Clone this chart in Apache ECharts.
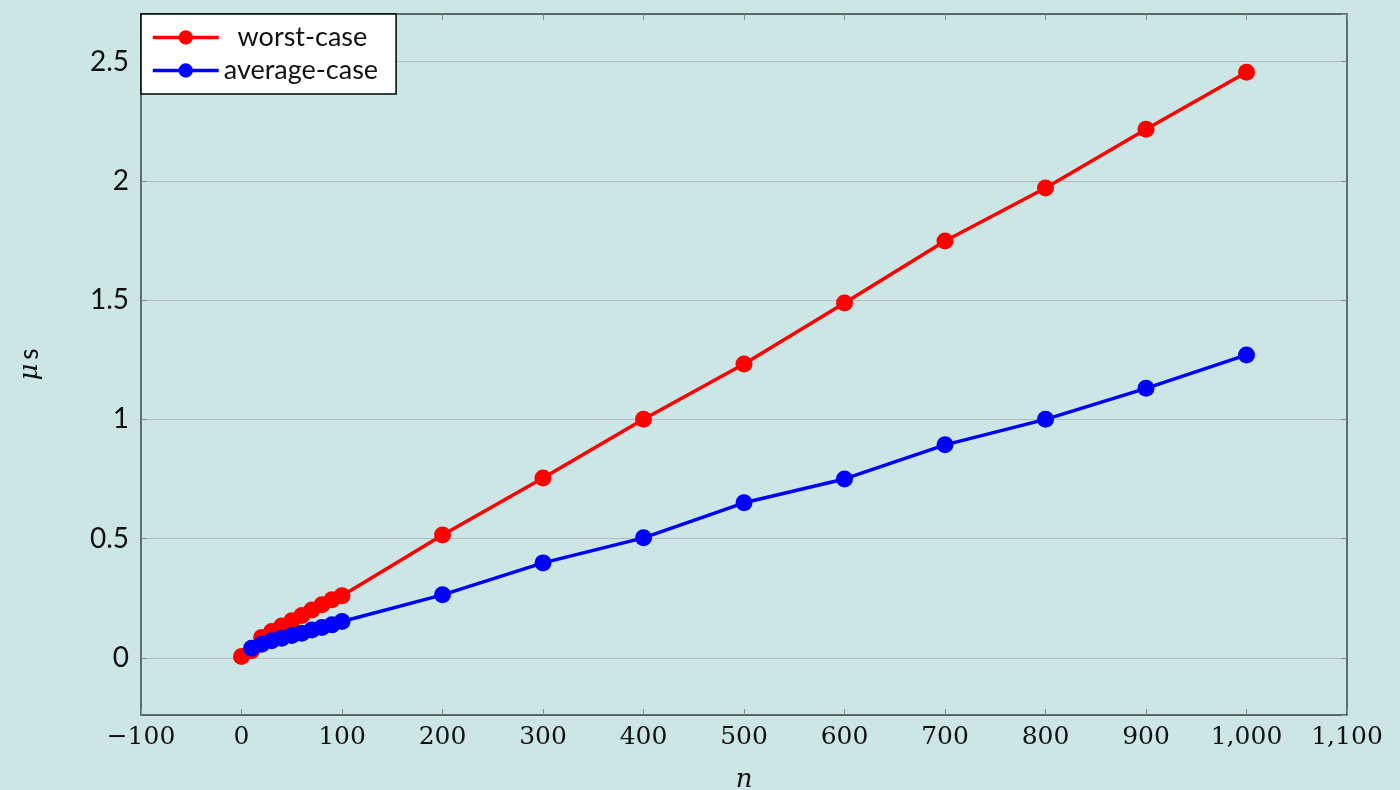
<!DOCTYPE html>
<html>
<head>
<meta charset="utf-8">
<script src="https://cdn.jsdelivr.net/npm/echarts@6/dist/echarts.min.js"></script>
<style>
  html, body { margin: 0; padding: 0; background: #cce6e6; }
  #chart { width: 1400px; height: 790px; }
</style>
</head>
<body>
<div id="chart"></div>
<script>
  // n values
  const nValues = [0, 10, 20, 30, 40, 50, 60, 70, 80, 90, 100, 200, 300, 400, 500, 600, 700, 800, 900, 1000]
  // worst-case timings (microseconds)
  const worstCase = [0.005, 0.03, 0.085, 0.11, 0.133, 0.155, 0.177, 0.2, 0.222, 0.243, 0.26,
    0.515, 0.754, 1.0, 1.232, 1.488, 1.748, 1.97, 2.217, 2.456]
  // average-case starts at n = 10
  const avgN = nValues.slice(1)
  const averageCase = [0.04, 0.057, 0.071, 0.082, 0.093, 0.103, 0.117, 0.127, 0.138, 0.152,
    0.264, 0.398, 0.503, 0.65, 0.75, 0.893, 1.0, 1.13, 1.27]
  const yTicks = [0, 0.5, 1, 1.5, 2, 2.5]

  const chart = echarts.init(document.getElementById('chart'))
  const serif = '"DejaVu Serif", "Liberation Serif", serif'
  const sans = 'Lato, "Open Sans", sans-serif'
  const axisColor = '#3a4444'
  const tickStyle = { inside: true, length: 6, lineStyle: { color: '#888', width: 1 } }

  function fmtX(v) {
    if (v < 0) return '\u2212' + Math.abs(v)
    return v >= 1000 ? (v / 1000 | 0) + ',' + String(v % 1000).padStart(3, '0') : String(v)
  }

  chart.setOption({
    backgroundColor: '#cce6e6',
    animation: false,
    grid: { left: 141, right: 53, top: 14, bottom: 75, outerBoundsMode: 'none', containLabel: false },
    legend: {
      left: 141,
      top: 14,
      orient: 'vertical',
      backgroundColor: '#fff',
      borderColor: '#000',
      borderWidth: 1.5,
      borderRadius: 0,
      padding: [10, 18, 10, 10],
      itemGap: 6,
      itemWidth: 66,
      itemHeight: 18,
      lineStyle: { width: 3.5 },
      textStyle: { fontFamily: sans, fontSize: 27, color: '#111' },
      formatter: name => name === 'worst-case' ? '  ' + name : name,
      data: ['worst-case', 'average-case']
    },
    xAxis: [{
      type: 'value',
      min: -100,
      max: 1100,
      interval: 100,
      name: 'n',
      nameLocation: 'middle',
      nameGap: 52,
      nameTextStyle: { fontFamily: serif, fontStyle: 'italic', fontSize: 26, color: '#111' },
      axisLine: { onZero: false, lineStyle: { color: axisColor, width: 1.5 } },
      axisTick: tickStyle,
      axisLabel: { fontFamily: serif, fontSize: 25, color: '#111', margin: 10, formatter: fmtX },
      splitLine: { show: false }
    }, {
      type: 'value',
      position: 'top',
      min: -100,
      max: 1100,
      interval: 100,
      axisLine: { show: true, onZero: false, lineStyle: { color: axisColor, width: 1.5 } },
      axisTick: tickStyle,
      axisLabel: { show: false },
      splitLine: { show: false }
    }],
    yAxis: [{
      type: 'value',
      min: -0.24,
      max: 2.7,
      minInterval: 0.5,
      maxInterval: 0.5,
      name: '{m|μ}{s|s}',
      nameLocation: 'middle',
      nameGap: 98,
      nameTextStyle: {
        rich: {
          m: { fontFamily: serif, fontStyle: 'italic', fontSize: 26, color: '#111' },
          s: { fontFamily: sans, fontSize: 26, color: '#111', padding: [0, 0, 0, 4] }
        }
      },
      axisLine: { show: true, onZero: false, lineStyle: { color: axisColor, width: 1.5 } },
      axisTick: tickStyle,
      axisLabel: {
        fontFamily: sans, fontSize: 28, color: '#111', margin: 12,
        showMinLabel: false, showMaxLabel: false,
        formatter: v => yTicks.indexOf(+v.toFixed(2)) >= 0 ? String(+v.toFixed(2)) : ''
      },
      splitLine: { show: true, lineStyle: { color: '#b4bcbc', width: 1 } }
    }, {
      type: 'value',
      position: 'right',
      min: -0.24,
      max: 2.7,
      minInterval: 0.5,
      maxInterval: 0.5,
      axisLine: { show: true, onZero: false, lineStyle: { color: axisColor, width: 1.5 } },
      axisTick: tickStyle,
      axisLabel: { show: false },
      splitLine: { show: false }
    }],
    series: [{
      name: 'worst-case',
      type: 'line',
      data: nValues.map((n, i) => [n, worstCase[i]]),
      symbol: 'circle',
      symbolSize: 17,
      showAllSymbol: true,
      color: '#ff0000',
      lineStyle: { width: 3.5, color: '#ff0000' },
      itemStyle: { color: '#ff0000' }
    }, {
      name: 'average-case',
      type: 'line',
      data: avgN.map((n, i) => [n, averageCase[i]]),
      symbol: 'circle',
      symbolSize: 17,
      showAllSymbol: true,
      color: '#0000ff',
      lineStyle: { width: 3.5, color: '#0000ff' },
      itemStyle: { color: '#0000ff' }
    }]
  })
</script>
</body>
</html>
